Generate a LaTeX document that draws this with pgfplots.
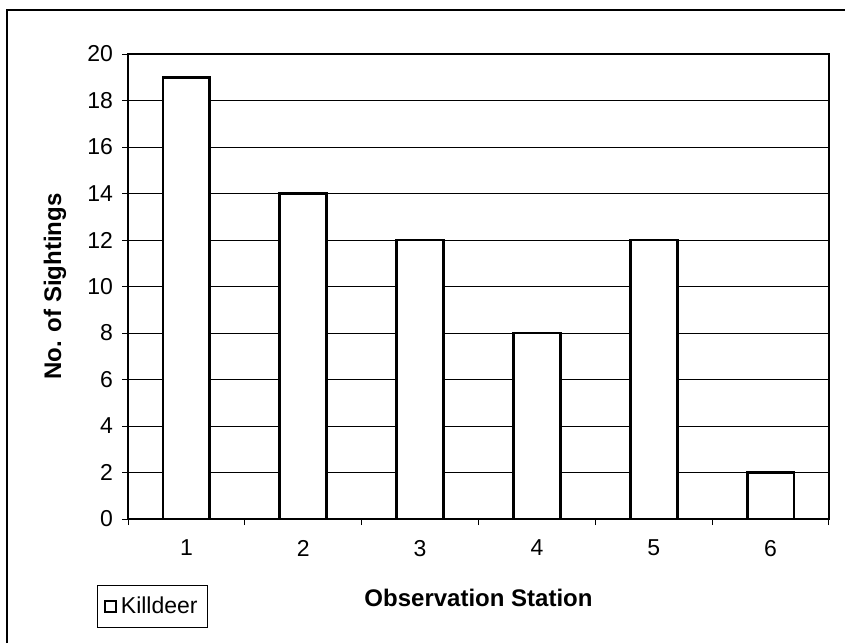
\documentclass[border=0pt]{standalone}
\usepackage{fontspec}
\setmainfont{Liberation Sans}
\usepackage{pgfplots}
\pgfplotsset{compat=1.18}

\pgfplotstableread{
station sightings
1 19
2 14
3 12
4 8
5 12
6 2
}\killdeer

\begin{document}
\begin{tikzpicture}
\useasboundingbox (0,0) rectangle (422.5pt,321.5pt);
% outer chart frame
\draw[line width=1.4pt] (3.5pt,0) -- (3.5pt,316.5pt) -- (422.5pt,316.5pt);
\begin{axis}[
  at={(64pt,62pt)}, anchor=south west,
  scale only axis, width=350.5pt, height=232.5pt,
  xmin=0.5, xmax=6.5, ymin=0, ymax=20,
  xtick={0.5,1.5,...,6.5},
  xticklabels={1,2,3,4,5,6},
  x tick label as interval,
  ytick={0,2,...,20},
  tick pos=left, tick align=outside,
  major tick length=3pt,
  tick style={black, line width=0.5pt},
  ymajorgrids, grid style={black, line width=0.5pt},
  axis line style={black, line width=0.6pt},
  /pgf/number format/assume math mode=true,
  tick label style={font=\fontsize{11.5}{13}\selectfont},
  yticklabel style={xshift=-1pt},
  xticklabel style={yshift=-4pt},
  xlabel={Observation Station},
  ylabel={No. of Sightings},
  label style={font=\fontsize{12}{14}\selectfont\bfseries},
  xlabel style={at={(axis description cs:0.5,-0.17)}, anchor=center},
  ylabel style={at={(axis description cs:-0.104,0.5)}, anchor=center, rotate=0},
  legend style={at={(axis description cs:-0.0442,-0.2344)}, anchor=south west,
    draw=black, line width=0.5pt, font=\fontsize{11.5}{13}\selectfont,
    inner xsep=3pt, inner ysep=3.5pt, row sep=0pt},
  legend image code/.code={\draw[line width=1.1pt, fill=white] (0pt,-2.8pt) rectangle (5.6pt,2.8pt);},
]
\addplot[ybar, bar width=0.4, draw=black, line width=1.4pt, fill=white] table[x=station, y=sightings] {\killdeer};
\addlegendentry{Killdeer}
\end{axis}
\end{tikzpicture}
\end{document}
